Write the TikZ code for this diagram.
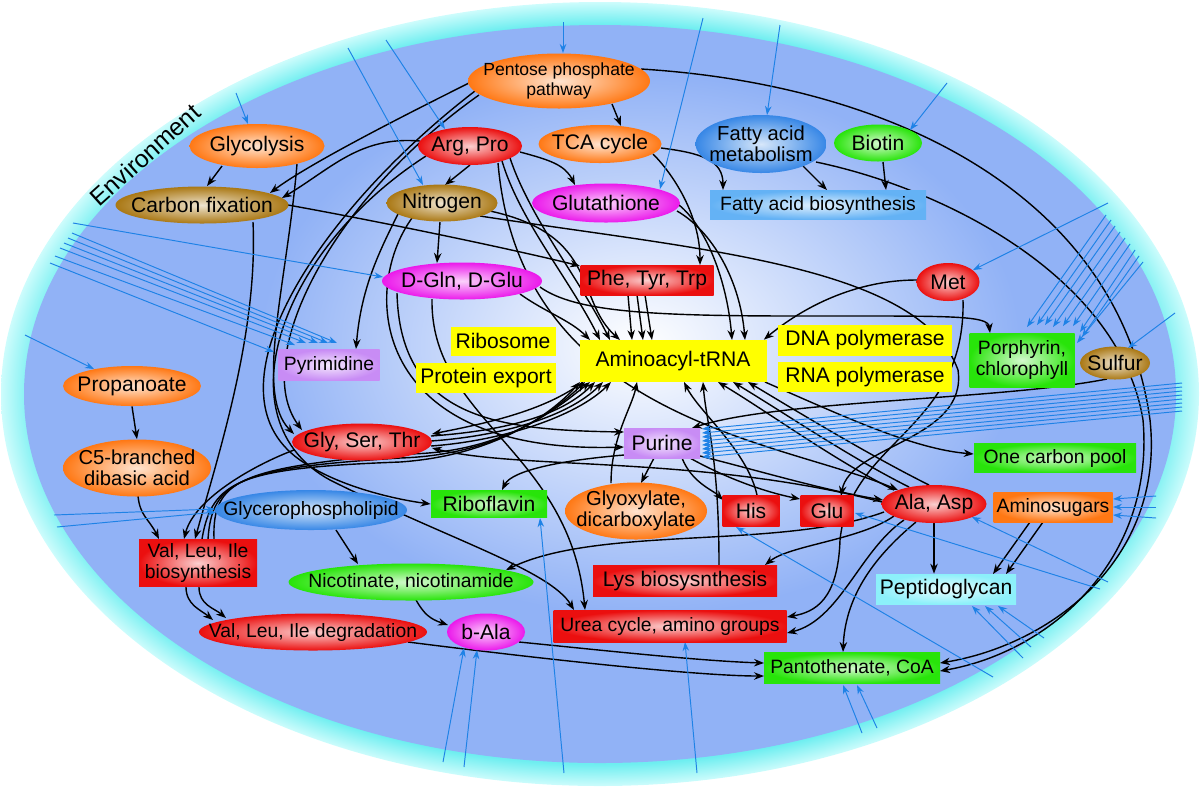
\documentclass[tikz,border=0pt]{standalone}
\usepackage{fontspec}
\setmainfont{Liberation Sans}
\usetikzlibrary{shapes.geometric,arrows.meta,calc}

\definecolor{ringin}{RGB}{110,238,240}
\definecolor{ringout}{RGB}{205,252,252}
\definecolor{cellblue}{RGB}{145,178,246}
\definecolor{envblue}{RGB}{30,130,230}
\definecolor{korange}{RGB}{255,120,20}
\definecolor{kred}{RGB}{235,15,15}
\definecolor{kgold}{RGB}{170,120,20}
\definecolor{kmag}{RGB}{235,25,235}
\definecolor{kblue}{RGB}{55,135,230}
\definecolor{klblue}{RGB}{100,178,245}
\definecolor{kgreen}{RGB}{40,228,10}
\definecolor{klilac}{RGB}{200,140,245}
\definecolor{kcyan}{RGB}{140,240,250}
\definecolor{kyellow}{RGB}{255,255,0}

\pgfdeclareradialshading{ringshade}{\pgfpoint{0bp}{0bp}}{color(0bp)=(ringin); color(23.6bp)=(ringin); color(25bp)=(ringout); color(50bp)=(ringout)}

\pgfdeclarelayer{bg}
\pgfdeclarelayer{edges}
\pgfsetlayers{bg,edges,main}

\tikzset{
  nd/.style={inner xsep=-40mm, inner ysep=-15mm, align=center, font=\fontsize{12}{12.5}\selectfont},
  ell/.style={nd, ellipse},
  box/.style={nd, rectangle},
  sz/.style 2 args={minimum width=#1*0.2mm, minimum height=#2*0.2mm},
  tint/.style={inner color=#1!20!white, outer color=#1},
  fsm/.style={font=\fontsize{11}{11.6}\selectfont},
  fmd/.style={font=\fontsize{11.5}{12}\selectfont},
  arr/.style={line width=0.8pt, -{Stealth[length=2mm,width=1.5mm]}},
  env/.style={envblue, line width=0.55pt, -{Stealth[length=1.8mm,width=1.3mm]}},
}

\begin{document}
\begin{tikzpicture}[x=0.2mm, y=-0.2mm]
\useasboundingbox (0,0) rectangle (1200,787);

\begin{pgfonlayer}{bg}
\shade[shading=ringshade] (600,394) ellipse (599 and 392);
\fill[cellblue] (600,394) ellipse (576 and 369);
\begin{scope}
\clip (600,394) ellipse (576 and 369);
\shade[inner color=white, outer color=cellblue] (640,345) ellipse (380 and 270);
\end{scope}
\end{pgfonlayer}

\node[rotate=42, font=\fontsize{14}{14}\selectfont] (envlbl) at (145,155) {Environment};

\node[ell, sz={182}{55}, tint=korange, font=\fontsize{10}{11}\selectfont] (pentose) at (559,81) {Pentose phosphate\\pathway};
\node[ell, sz={135}{44}, tint=korange] (glyc) at (257,146) {Glycolysis};
\node[ell, sz={104}{38}, tint=kred] (argpro) at (470,146) {Arg, Pro};
\node[ell, sz={123}{38}, tint=korange] (tca) at (600,144) {TCA cycle};
\node[ell, sz={131}{58}, tint=kblue, fmd] (fam) at (761,144) {Fatty acid\\metabolism};
\node[ell, sz={88}{37}, tint=kgreen] (biotin) at (878,143) {Biotin};
\node[ell, sz={173}{37}, tint=kgold] (carbfix) at (202,205) {Carbon fixation};
\node[ell, sz={111}{37}, tint=kgold] (nitro) at (442,203) {Nitrogen};
\node[ell, sz={148}{39}, tint=kmag] (gluta) at (606,203) {Glutathione};
\node[box, sz={216}{29}, tint=klblue, fsm] (fab) at (818,205) {Fatty acid biosynthesis};
\node[ell, sz={160}{37}, tint=kmag] (dgln) at (462,281) {D-Gln, D-Glu};
\node[box, sz={133}{30}, tint=kred] (phe) at (647,280) {Phe, Tyr, Trp};
\node[ell, sz={63}{38}, tint=kred] (met) at (948,282) {Met};
\node[box, sz={105}{29}, fill=kyellow] (ribo) at (503,341) {Ribosome};
\node[box, sz={140}{30}, fill=kyellow] (protexp) at (486,378) {Protein export};
\node[box, sz={187}{42}, fill=kyellow] (trna) at (673,361) {Aminoacyl-tRNA};
\node[box, sz={174}{31}, fill=kyellow] (dnapol) at (865,340) {DNA polymerase};
\node[box, sz={174}{30}, fill=kyellow] (rnapol) at (865,377) {RNA polymerase};
\node[box, sz={101}{31}, tint=klilac, fsm] (pyrim) at (329,365) {Pyrimidine};
\node[box, sz={105}{54}, tint=kgreen, fsm] (porph) at (1022,360) {Porphyrin,\\chlorophyll};
\node[ell, sz={70}{33}, tint=kgold] (sulfur) at (1115,363) {Sulfur};
\node[ell, sz={138}{40}, tint=korange] (propan) at (132,386) {Propanoate};
\node[ell, sz={148}{57}, tint=korange, fmd] (cfive) at (137,468) {C5-branched\\dibasic acid};
\node[ell, sz={140}{37}, tint=kred] (gst) at (362,442) {Gly, Ser, Thr};
\node[box, sz={76}{30}, tint=klilac] (purine) at (662,443) {Purine};
\node[box, sz={162}{29}, tint=kgreen, fsm] (onec) at (1055,458) {One carbon pool};
\node[box, sz={116}{27}, tint=kgreen] (ribofl) at (489,504) {Riboflavin};
\node[ell, sz={192}{40}, tint=kblue, fsm] (glyph) at (311,510) {Glycerophospholipid};
\node[ell, sz={142}{57}, tint=korange, fmd] (glyox) at (636,511) {Glyoxylate,\\dicarboxylate};
\node[box, sz={57}{31}, tint=kred] (his) at (751,511) {His};
\node[box, sz={53}{31}, tint=kred] (glu) at (827,511) {Glu};
\node[ell, sz={105}{38}, tint=kred] (alaasp) at (934,504) {Ala, Asp};
\node[box, sz={119}{30}, tint=korange, fsm] (amsug) at (1053,507) {Aminosugars};
\node[box, sz={118}{47}, tint=kred, fsm] (vlib) at (198,563) {Val, Leu, Ile\\biosynthesis};
\node[ell, sz={245}{37}, tint=kgreen, fsm] (nicot) at (411,582) {Nicotinate, nicotinamide};
\node[box, sz={184}{31}, tint=kred] (lys) at (685,581) {Lys biosysnthesis};
\node[box, sz={140}{30}, tint=kcyan] (pepg) at (946,589) {Peptidoglycan};
\node[ell, sz={228}{37}, tint=kred, fsm] (vlid) at (313,632) {Val, Leu, Ile degradation};
\node[ell, sz={78}{37}, tint=kmag] (bala) at (486,632) {b-Ala};
\node[box, sz={233}{32}, tint=kred, fsm] (urea) at (670,626) {Urea cycle, amino groups};
\node[box, sz={176}{31}, tint=kgreen, fsm] (panto) at (852,668) {Pantothenate, CoA};

\begin{pgfonlayer}{edges}
\draw[arr] ($(pentose)+(53,23)$) -- ($(tca)+(21,-18)$);
\draw[arr] ($(pentose)+(-90,2)$) .. controls +(-60,30) and +(40,-30) .. ($(carbfix)+(68,-12)$);
\draw[arr] ($(argpro)+(-50,-5)$) .. controls +(-60,-5) and +(50,-30) .. ($(carbfix)+(80,-7)$);
\draw[arr] ($(glyc)+(-35,20)$) -- ($(carbfix)+(5,-19)$);
\draw[arr] ($(glyc)+(40,18)$) .. controls +(-10,120) and +(-40,-40) .. ($(gst)+(-68,-8)$);
\draw[arr] ($(carbfix)+(51,17)$) .. controls +(5,110) and +(25,-90) .. ($(vlib)+(-3,-24)$);
\draw[arr] ($(carbfix)+(86,0)$) .. controls +(100,18) and +(-60,-15) .. ($(phe)+(-67,-14)$);
\draw[arr] ($(nitro)+(-2,19)$) -- ($(dgln)+(-25,-18)$);
\draw[arr] ($(argpro)+(0,19)$) -- ($(nitro)+(3,-18)$);
\draw[arr] ($(argpro)+(50,6)$) .. controls +(30,8) and +(-10,-20) .. ($(gluta)+(-31,-18)$);
\draw[arr] ($(tca)+(61,4)$) .. controls +(40,5) and +(0,-30) .. ($(fab)+(-95,-15)$);
\draw[arr] ($(tca)+(53,10)$) .. controls +(20,20) and +(0,-50) .. ($(phe)+(53,-15)$);
\draw[arr] ($(fam)+(42,22)$) -- ($(fab)+(9,-15)$);
\draw[arr] ($(biotin)+(5,19)$) -- ($(fab)+(68,-15)$);
\draw[arr] ($(pentose)+(82,-12)$) .. controls (900,85) and (1120,200) .. (1150,420) .. controls (1165,560) and (1050,645) .. ($(panto)+(88,-5)$);
\draw[arr] ($(fam)+(55,18)$) .. controls (950,190) and (1120,280) .. (1143,420) .. controls (1155,560) and (1050,652) .. ($(panto)+(88,3)$);
\draw[arr] ($(nitro)+(38,13)$) .. controls (700,250) and (920,265) .. (958,370) .. controls (968,440) and (850,445) .. ($(glu)+(14,-15)$);
\draw[arr] ($(met)+(15,18)$) .. controls (966,430) and (850,440) .. (840,540) .. controls (838,600) and (815,612) .. ($(urea)+(117,-9)$);
\draw[arr] ($(met)+(-31,-2)$) .. controls +(-70,0) and +(30,-25) .. ($(trna.north east)+(-3,0)$);
\draw[arr] ($(dgln)+(78,6)$) .. controls (575,312) and (650,316) .. (800,316) .. controls (950,316) and (988,315) .. ($(porph)+(-32,-27)$);
\draw[arr] ($(dgln)+(58,13)$) .. controls +(25,18) and +(-20,-20) .. ($(trna)+(-83,-21)$);
\draw[arr] ($(argpro)+(32,15)$) .. controls +(18,60) and +(-30,-60) .. ($(trna)+(-73,-21)$);
\draw[arr] ($(argpro)+(40,12)$) .. controls +(20,60) and +(-30,-60) .. ($(trna)+(-63,-21)$);
\draw[arr] ($(nitro)+(48,8)$) .. controls (600,235) and (575,300) .. ($(trna)+(-53,-21)$);
\foreach \dx/\ex in {-19/-41,-10/-30,-2/-21}
  \draw[arr] ($(phe)+(\dx,15)$) -- ($(trna)+(\ex,-21)$);
\draw[arr] ($(gluta)+(73,2)$) .. controls +(27,22) and +(-5,-60) .. ($(trna)+(59,-21)$);
\draw[arr] ($(gluta)+(71,8)$) .. controls +(35,20) and +(-5,-60) .. ($(trna)+(72,-21)$);
\draw[arr] ($(glyox)+(-25,-28)$) .. controls +(0,-45) and +(-5,25) .. ($(trna)+(-36,21)$);
\draw[arr] ($(his)+(6,-16)$) .. controls +(-10,-45) and +(15,30) .. ($(trna)+(11,21)$);
\draw[arr] ($(lys)+(34,-16)$) .. controls +(0,-110) and +(3,40) .. ($(trna)+(30,21)$);
\foreach \sx/\sy/\ex in {-5/-19/75,-25/-17/60,-40/-14/45}
  \draw[arr] ($(alaasp)+(\sx,\sy)$) .. controls +(-60,-30) and +(50,30) .. ($(trna)+(\ex,21)$);
\draw[arr] ($(trna)+(92,21)$) .. controls +(80,35) and +(-60,-5) .. ($(onec.west)+(0,-4)$);
\foreach \i in {0,1,2}
  \draw[arr] ($(vlib)+(4+6*\i,-24)$) .. controls (212,480) and (240,468) .. (400,462-4*\i) .. controls (500,455) and (555,410) .. ($(trna)+(-93+5*\i,21)$);
\foreach \i in {0,1,2}
  \draw[arr] ($(gst)+(69,-6+5*\i)$) .. controls +(70,-5) and +(-35,35) .. ($(trna)+(-78+8*\i,21)$);
\draw[arr] ($(trna)+(-90,21)$) .. controls +(-40,30) and +(50,-10) .. ($(gst)+(70,-8)$);
\draw[arr] ($(alaasp)+(-52,-2)$) .. controls (700,455) and (520,470) .. ($(gst)+(70,6)$);
\draw[arr] ($(purine)+(38,13)$) .. controls +(60,15) and +(-60,-10) .. ($(alaasp)+(-51,-4)$);
\draw[arr] ($(argpro)+(28,17)$) .. controls (520,420) and (780,440) .. ($(alaasp)+(-36,-14)$);
\draw[arr] ($(argpro)+(-44,10)$) .. controls (280,250) and (220,420) .. (330,480) .. controls (450,540) and (550,570) .. ($(urea)+(-96,-16)$);
\draw[arr] ($(dgln)+(-30,18)$) .. controls (430,420) and (570,450) .. ($(urea)+(-85,-16)$);
\draw[arr] ($(pentose)+(-80,14)$) .. controls (330,200) and (250,360) .. ($(gst)+(-60,-12)$);
\draw[arr] ($(pentose)+(-84,10)$) .. controls (320,210) and (200,390) .. (300,460) .. controls (340,488) and (400,500) .. (ribofl.west);
\draw[arr] ($(gst)+(-68,8)$) .. controls +(-40,15) and +(10,-40) .. ($(vlib)+(-14,-24)$);
\draw[arr] ($(cfive)+(1,28)$) .. controls +(2,20) and +(-10,-20) .. ($(vlib)+(-39,-24)$);
\draw[arr] (propan.south) -- (cfive.north);
\draw[arr] ($(vlib)+(-12,24)$) .. controls +(0,18) and +(-12,-10) .. ($(vlid)+(-100,-12)$);
\draw[arr] ($(vlib)+(1,24)$) .. controls +(0,18) and +(-12,-10) .. ($(vlid)+(-87,-14)$);
\draw[arr] ($(glyph)+(25,20)$) -- ($(nicot)+(-53,-18)$);
\draw[arr] ($(nicot)+(5,18)$) .. controls +(8,14) and +(-18,-6) .. ($(bala)+(-38,-7)$);
\draw[arr] ($(vlid)+(95,10)$) .. controls (550,660) and (700,676) .. ($(panto)+(-88,8)$);
\draw[arr] ($(bala)+(33,10)$) .. controls (600,650) and (700,661) .. ($(panto)+(-88,-5)$);
\draw[arr] ($(alaasp)+(-40,12)$) .. controls (860,540) and (790,545) .. ($(lys)+(80,-16)$);
\draw[arr] ($(alaasp)+(-30,16)$) .. controls (860,550) and (840,620) .. ($(urea)+(117,7)$);
\draw[arr] (alaasp.south) -- ($(pepg.north)+(-12,0)$);
\draw[arr] ($(alaasp)+(-18,18)$) .. controls (870,560) and (845,600) .. ($(panto)+(-9,-16)$);
\draw[arr] ($(alaasp)+(-50,8)$) .. controls (780,550) and (600,525) .. ($(nicot)+(95,-12)$);
\draw[arr] ($(amsug)+(-23,15)$) -- ($(pepg)+(47,-15)$);
\draw[arr] ($(amsug)+(-10,15)$) -- ($(pepg)+(60,-15)$);
\draw[arr] ($(sulfur)+(-8,16)$) .. controls (1000,400) and (780,400) .. ($(purine)+(30,-15)$);
\draw[arr] ($(dgln)+(-65,12)$) .. controls (400,420) and (500,430) .. ($(purine)+(-38,-11)$);
\draw[arr] ($(nitro)+(-30,15)$) .. controls (360,290) and (370,455) .. ($(purine)+(-38,4)$);
\draw[arr] ($(nitro)+(-44,11)$) .. controls +(-20,40) and +(5,-60) .. ($(pyrim)+(27,-16)$);
\draw[arr] ($(purine)+(-8,15)$) -- ($(glyox)+(5,-28)$);
\draw[arr] ($(purine)+(20,15)$) .. controls +(10,25) and +(-10,-10) .. ($(his)+(-28,-11)$);
\draw[arr] ($(purine)+(28,15)$) .. controls +(30,17) and +(-40,-8) .. ($(glu)+(-27,-12)$);
\draw[arr] ($(purine)+(-38,12)$) .. controls +(-60,5) and +(10,-20) .. ($(ribofl)+(13,-14)$);

\coordinate (e1) at (236,93);    \draw[env] (e1) -- ($(glyc)+(-9,-22)$);
\coordinate (e2) at (563,22);    \draw[env] (e2) -- ($(pentose)+(4,-28)$);
\coordinate (e3) at (386,40);    \draw[env] (e3) -- ($(argpro)+(-25,-17)$);
\coordinate (e4) at (348,48);    \draw[env] (e4) -- ($(nitro)+(-19,-18)$);
\coordinate (e5) at (703,18);    \draw[env] (e5) -- ($(gluta)+(54,-14)$);
\coordinate (e6) at (780,25);    \draw[env] (e6) -- ($(fam)+(6,-29)$);
\coordinate (e7) at (947,83);    \draw[env] (e7) -- ($(biotin)+(32,-13)$);
\coordinate (e8) at (1108,203);  \draw[env] (e8) -- ($(met)+(25,-12)$);
\coordinate (e9) at (1175,313);  \draw[env] (e9) -- ($(sulfur)+(13,-15)$);
\coordinate (e10) at (73,223);   \draw[env] (e10) -- ($(dgln)+(-79,-4)$);
\coordinate (e11) at (25,335);   \draw[env] (e11) -- ($(propan)+(-38,-17)$);
\coordinate (e12) at (54,515);   \draw[env] (e12) -- ($(glyph)+(-96,-1)$);
\coordinate (e13) at (57,527);   \draw[env] (e13) -- ($(glyph)+(-95,2)$);
\coordinate (e14) at (443,762);  \draw[env] (e14) -- ($(bala)+(-22,16)$);
\coordinate (e15) at (464,767);  \draw[env] (e15) -- ($(bala)+(-9,18)$);
\coordinate (e16) at (564,773);  \draw[env] (e16) -- ($(ribofl)+(51,14)$);
\coordinate (e17) at (697,773);  \draw[env] (e17) -- ($(urea)+(15,16)$);
\coordinate (e18) at (993,677);  \draw[env] (e18) -- ($(his)+(-15,16)$);
\coordinate (e19) at (1100,589); \draw[env] (e19) -- ($(glu)+(28,2)$);
\coordinate (e20) at (1108,582); \draw[env] (e20) -- ($(alaasp)+(38,13)$);
\foreach \sy/\ey [count=\i] in {496/-8,507/0,518/8} {
  \coordinate (am\i) at (1156,\sy);
  \draw[env] (am\i) -- ($(amsug)+(60,\ey)$);
}
\foreach \sx/\sy/\ex [count=\i] in {1044/638/52,1031/647/39,1023/658/26} {
  \coordinate (pg\i) at (\sx,\sy);
  \draw[env] (pg\i) -- ($(pepg)+(\ex,17)$);
}
\foreach \sx/\sy/\ex [count=\i] in {862/733/-9,877/728/5} {
  \coordinate (pc\i) at (\sx,\sy);
  \draw[env] (pc\i) -- ($(panto)+(\ex,17)$);
}
\foreach \sx/\sy/\ex/\ey [count=\i] in {1106/215/5/-33,1111/220/15/-35,1115/226/23/-35,1120/232/31/-33,1125/238/41/-34,1130/244/51/-34,1135/250/58/-28,1139/256/60/-23,1143/262/55/-17} {
  \coordinate (pp\i) at (\sx,\sy);
  \draw[env] (pp\i) -- ($(porph)+(\ex,\ey)$);
}
\foreach \i in {0,...,7} {
  \coordinate (pu\i) at (1182,383+4*\i);
  \draw[env] (pu\i) -- ($(purine)+(40,-14+4*\i)$);
}
\foreach \sx/\sy/\ex/\ey [count=\i] in {72/233/8/-22,68/238/-1/-22,64/243/-11/-22,60/248/-23/-22,55/256/-34/-20,50/263/-55/-13} {
  \coordinate (py\i) at (\sx,\sy);
  \draw[env] (py\i) -- ($(pyrim)+(\ex,\ey)$);
}
\end{pgfonlayer}
\end{tikzpicture}
\end{document}
